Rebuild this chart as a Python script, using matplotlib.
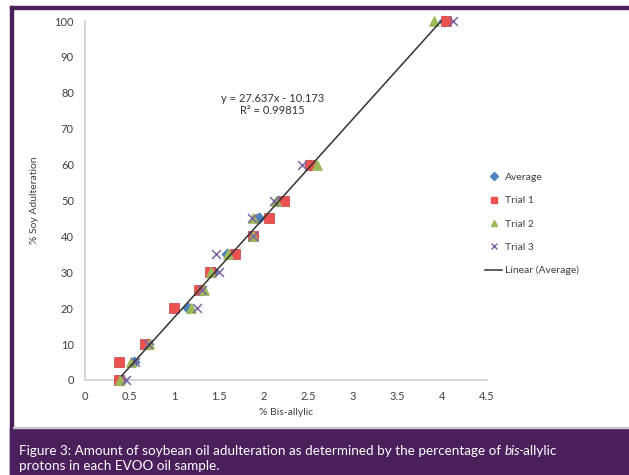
import numpy as np
import matplotlib.pyplot as plt
from matplotlib.patches import Rectangle
from matplotlib.lines import Line2D

# Datos
soy = [0, 5, 10, 20, 25, 30, 35, 40, 45, 50, 60, 100]
average = [0.41, 0.55, 0.70, 1.15, 1.30, 1.44, 1.59, 1.88, 1.945, 2.16, 2.52, 4.02]
trial1 = [0.38, 0.38, 0.67, 1.00, 1.28, 1.40, 1.68, 1.885, 2.06, 2.23, 2.52, 4.04]
trial2 = [0.39, 0.515, 0.72, 1.19, 1.33, 1.41, 1.60, 1.88, 1.875, 2.14, 2.60, 3.91]
trial3 = [0.46, 0.56, 0.71, 1.25, 1.31, 1.50, 1.47, 1.88, 1.87, 2.12, 2.43, 4.12]
slope, intercept = 27.637, -10.173

plt.rcParams['font.family'] = ['Lato', 'DejaVu Sans']

purple = '#4a1f5c'
txt = '#404040'

fig = plt.figure(figsize=(6.29, 4.75), dpi=100)

# Marco morado
fig.patches.append(Rectangle((10 / 629, 0), 3 / 629, 1 - 6 / 475, transform=fig.transFigure,
                             color=purple, zorder=0))
fig.patches.append(Rectangle((10 / 629, 1 - 9 / 475), 1, 3 / 475, transform=fig.transFigure,
                             color=purple, zorder=0))
fig.patches.append(Rectangle((10 / 629, 0), 1, 47 / 475, transform=fig.transFigure,
                             color=purple, zorder=0))
fig.patches.append(Rectangle((13 / 629, 47 / 475), 1, 1.5 / 475, transform=fig.transFigure,
                             color='#c8c8c8', zorder=0))

ax = fig.add_axes([85 / 629, 1 - 380 / 475, 402 / 629, 359 / 475])
ax.set_xlim(0, 4.5)
ax.set_ylim(0, 100)
ax.set_xticks(np.arange(0, 4.51, 0.5))
ax.set_xticklabels(['0', '0.5', '1', '1.5', '2', '2.5', '3', '3.5', '4', '4.5'])
ax.set_yticks(range(0, 101, 10))
for s in ['top', 'right']:
    ax.spines[s].set_visible(False)
for s in ['left', 'bottom']:
    ax.spines[s].set_color('#d0d0d0')
    ax.spines[s].set_linewidth(1.2)
ax.tick_params(length=0, labelsize=8, colors=txt, pad=8)

ax.scatter(average, soy, marker='D', s=28, color='#4f81bd', label='Average', zorder=3, clip_on=False)
ax.scatter(trial1, soy, marker='s', s=42, color='#ec5350', edgecolors='#c84040', linewidths=0.5,
           label='Trial 1', zorder=3, clip_on=False)
ax.scatter(trial2, soy, marker='^', s=44, color='#9bbb59', label='Trial 2', zorder=3, clip_on=False)
ax.scatter(trial3, soy, marker='x', s=40, color='#8064a2', linewidths=1.1, label='Trial 3',
           zorder=3, clip_on=False)

xs = np.array([min(average), max(average)])
ax.plot(xs, slope * xs + intercept, color='#333333', lw=1.1, zorder=4)

ax.text(2.1, 76.8, 'y = 27.637x - 10.173\nR² = 0.99815', ha='center', va='center',
        fontsize=8, color='#333333', linespacing=1.15)

ax.set_xlabel('% Bis-allylic', fontsize=7.5, color=txt, labelpad=4)
ax.set_ylabel('% Soy Adulteration', fontsize=7.5, color=txt, labelpad=11)

handles = [
    Line2D([], [], marker='D', ls='none', color='#4f81bd', markersize=3.8),
    Line2D([], [], marker='s', ls='none', color='#ec5350', markersize=4.8),
    Line2D([], [], marker='^', ls='none', color='#9bbb59', markersize=5),
    Line2D([], [], marker='x', ls='none', color='#8064a2', markersize=4.5),
    Line2D([], [], color='#333333', lw=1.1),
]
labels = ['Average', 'Trial 1', 'Trial 2', 'Trial 3', 'Linear (Average)']
fig.legend(handles, labels, loc='center left', bbox_to_anchor=(476 / 629, 1 - 224 / 475),
           frameon=False, fontsize=7.5, labelcolor=txt, handlelength=1.6, handletextpad=0.3,
           labelspacing=1.35)

# Pie de figura, con "bis" en cursiva
renderer = fig.canvas.get_renderer()
x = 19
y1 = 1 - 451 / 475
for part, style, ajuste in [('Figure 3: Amount of soybean oil adulteration as determined by the percentage of ', 'normal', 0),
                            ('bis', 'italic', -2.5), ('-allylic', 'normal', 0)]:
    t = fig.text(x / 629, y1, part, color='white', fontsize=9.7, va='center', style=style)
    x = t.get_window_extent(renderer).x1 + ajuste
fig.text(19 / 629, 1 - 466 / 475, 'protons in each EVOO oil sample.',
         color='white', fontsize=9.7, va='center')

fig.savefig('out.png', dpi=100)
